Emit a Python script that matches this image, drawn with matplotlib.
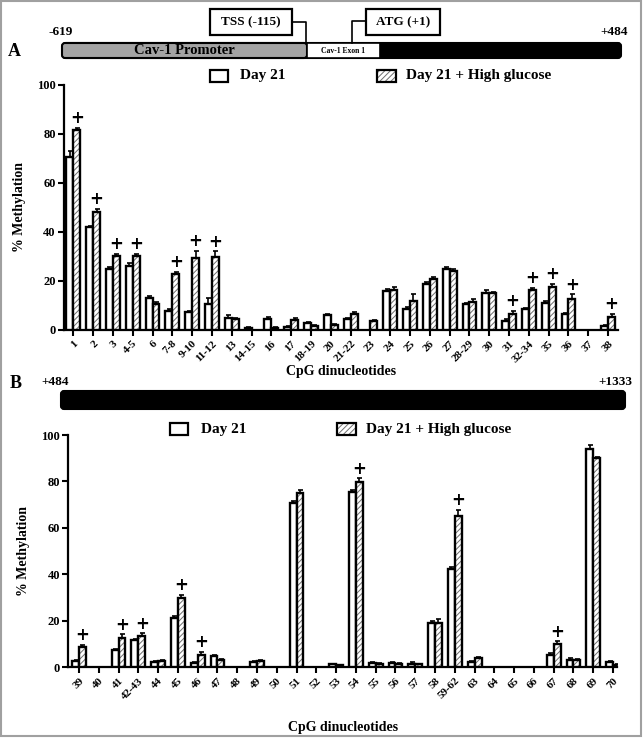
import numpy as np
import matplotlib
matplotlib.use('Agg')
import matplotlib.pyplot as plt
from matplotlib.patches import Rectangle, FancyBboxPatch

plt.rcParams['font.family'] = ['Liberation Serif', 'DejaVu Serif']
plt.rcParams['font.weight'] = 'bold'
plt.rcParams['hatch.linewidth'] = 0.7

# ---------------- data ----------------
cats_a = ['1', '2', '3', '4-5', '6', '7-8', '9-10', '11-12', '13', '14-15', '16', '17',
          '18-19', '20', '21-22', '23', '24', '25', '26', '27', '28-29', '30', '31',
          '32-34', '35', '36', '37', '38']
day21_a = [70.5, 42, 25, 26.2, 13, 7.7, 7.2, 10.5, 4.8, 1.0, 4.6, 1.2, 2.7, 6.1, 4.3, 0,
           16, 8.4, 18.8, 25, 10.6, 15.2, 3.8, 8.6, 11.2, 6.5, 0, 1.6]
hg_a = [81.5, 48, 30, 30, 10.5, 22.8, 29.3, 29.6, 4.3, 0, 1.0, 4.0, 1.5, 2.0, 6.4, 3.6,
        16.2, 11.8, 20.8, 24, 11.5, 15, 6.4, 16.3, 17.4, 12.5, 0, 5.2]
err_day21_a = [2.5, 0.6, 0.8, 1.0, 0.8, 0.8, 0.6, 2.5, 1.5, 0.3, 0.8, 0.4, 0.6, 0.5, 0.6, 0,
               0.8, 0.8, 0.8, 0.8, 0.6, 1.0, 0.5, 0.5, 0.6, 0.5, 0, 0.4]
err_hg_a = [1.0, 1.5, 1.0, 1.0, 1.0, 1.0, 3.0, 2.5, 0.5, 0, 0.3, 0.8, 0.4, 0.4, 1.0, 0.3,
            1.5, 3.0, 1.0, 1.0, 1.0, 0.6, 1.5, 1.0, 1.5, 2.0, 0, 1.5]
sig_a = ['1', '2', '3', '4-5', '7-8', '9-10', '11-12', '31', '32-34', '35', '36', '38']

cats_b = ['39', '40', '41', '42-43', '44', '45', '46', '47', '48', '49', '50', '51', '52',
          '53', '54', '55', '56', '57', '58', '59-62', '63', '64', '65', '66', '67', '68',
          '69', '70']
day21_b = [2.5, 0, 7.3, 11.6, 2.0, 21.3, 1.6, 4.8, 0, 2.0, 0, 70.7, 0, 1.2, 75.5, 1.6, 1.7,
           1.5, 19, 42.2, 2.2, 0, 0, 0, 5.2, 3.2, 94, 2.0]
hg_b = [8.6, 0, 12.6, 13.5, 2.8, 29.6, 5.2, 3.2, 0, 2.8, 0, 75.2, 0, 0.7, 79.8, 1.3, 1.5,
        1.2, 19, 65.3, 4.0, 0, 0, 0, 9.8, 3.0, 90, 1.0]
err_day21_b = [0.4, 0, 0.6, 0.5, 0.4, 0.8, 0.6, 0.5, 0, 0.4, 0, 1.0, 0, 0.3, 1.0, 0.5, 0.5,
               0.5, 1.0, 1.0, 0.4, 0, 0, 0, 0.8, 0.5, 1.5, 0.5]
err_hg_b = [0.8, 0, 1.5, 1.0, 0.4, 1.5, 1.2, 0.4, 0, 0.4, 0, 1.0, 0, 0.2, 1.5, 0.3, 0.3,
            0.3, 1.5, 2.5, 0.4, 0, 0, 0, 1.2, 0.4, 0.4, 0.3]
sig_b = ['39', '41', '42-43', '45', '46', '54', '59-62', '67']

yticks = [0, 20, 40, 60, 80, 100]

W, H = 644, 739
fig = plt.figure(figsize=(W / 100, H / 100), dpi=100)


def px_axes(left, right, top, bottom):
    return fig.add_axes([left / W, 1 - bottom / H, (right - left) / W, (bottom - top) / H])


def draw_panel(ax, cats, v1, v2, e1, e2, sig, xlim, xlab_y):
    x = np.arange(len(cats))
    w = 0.35
    v1 = np.array(v1, float)
    v2 = np.array(v2, float)
    e1 = np.array(e1, float)
    e2 = np.array(e2, float)
    m1 = v1 > 0
    m2 = v2 > 0
    ax.bar(x[m1] - w / 2, v1[m1], w, facecolor='white', edgecolor='black', linewidth=1.7,
           zorder=3)
    ax.bar(x[m2] + w / 2, v2[m2], w, facecolor='white', edgecolor='#6f6f6f', linewidth=0,
           hatch='//////', zorder=3)
    ax.bar(x[m2] + w / 2, v2[m2], w, facecolor='none', edgecolor='black', linewidth=1.7,
           zorder=4)
    ax.errorbar(x[m1] - w / 2, v1[m1], yerr=[np.zeros(m1.sum()), e1[m1]], fmt='none',
                ecolor='black', elinewidth=1.2, capsize=1.8, capthick=1.2, zorder=5)
    ax.errorbar(x[m2] + w / 2, v2[m2], yerr=[np.zeros(m2.sum()), e2[m2]], fmt='none',
                ecolor='black', elinewidth=1.2, capsize=1.8, capthick=1.2, zorder=5)
    for c in sig:
        i = cats.index(c)
        ax.text(x[i] + w / 2, v2[i] + e2[i] + 0.3, '+', ha='center', va='bottom',
                fontsize=12, fontweight='bold', family='DejaVu Sans')
    ax.set_xlim(*xlim)
    ax.set_ylim(0, 100)
    ax.set_yticks(yticks)
    ax.set_xticks(x)
    ax.set_xticklabels(cats, rotation=45, ha='right', rotation_mode='anchor', fontsize=8)
    ax.tick_params(axis='both', direction='out', length=4, width=1.5)
    ax.tick_params(axis='y', labelsize=9, pad=2)
    ax.tick_params(axis='x', pad=2.5)
    for s in ['top', 'right']:
        ax.spines[s].set_visible(False)
    for s in ['left', 'bottom']:
        ax.spines[s].set_linewidth(1.6)
    ax.set_ylabel('% Methylation', fontsize=10, fontweight='bold', labelpad=8)
    ax.set_xlabel('CpG dinucleotides', fontsize=10, fontweight='bold')
    ax.xaxis.set_label_coords(0.5, xlab_y)
    ax.patch.set_alpha(0)


axA = px_axes(64, 618, 84.7, 330)
draw_panel(axA, cats_a, day21_a, hg_a, err_day21_a, err_hg_a, sig_a, (-0.47, 27.5), -0.143)
axB = px_axes(68.3, 617, 435, 667)
draw_panel(axB, cats_b, day21_b, hg_b, err_day21_b, err_hg_b, sig_b, (-0.54, 27.2), -0.232)

# ---------------- overlay (gene map, legends, frame) ----------------
ov = fig.add_axes([0, 0, 1, 1], zorder=-1)
ov.set_xlim(0, W)
ov.set_ylim(H, 0)
ov.axis('off')

ov.add_patch(Rectangle((1, 1), 640, 735, facecolor='none', edgecolor='#a0a0a0', lw=1.5))

# Panel A gene map
ov.add_patch(FancyBboxPatch((63, 43), 558, 15, boxstyle='round,pad=0,rounding_size=3',
                            facecolor='black', edgecolor='black', lw=1.5))
ov.add_patch(FancyBboxPatch((62, 43), 245, 15, boxstyle='round,pad=0,rounding_size=3',
                            facecolor='#a3a3a3', edgecolor='black', lw=1.5))
ov.add_patch(Rectangle((307, 43), 73, 15, facecolor='white', edgecolor='black', lw=1.2))
ov.text(184, 51, 'Cav-1 Promoter', ha='center', va='center', fontsize=10.5)
ov.text(343, 51, 'Cav-1 Exon 1', ha='center', va='center', fontsize=5.5)
ov.add_patch(Rectangle((210, 9), 82, 26, facecolor='white', edgecolor='black', lw=1.6))
ov.text(251, 22, 'TSS (-115)', ha='center', va='center', fontsize=9.5)
ov.plot([292, 306, 306], [22, 22, 43], color='black', lw=1.2)
ov.add_patch(Rectangle((366, 9), 74, 26, facecolor='white', edgecolor='black', lw=1.6))
ov.text(403, 22, 'ATG (+1)', ha='center', va='center', fontsize=9.5)
ov.plot([366, 352, 352], [21, 21, 43], color='black', lw=1.2)
ov.text(61, 32, '-619', ha='center', va='center', fontsize=9.5)
ov.text(628, 32, '+484', ha='right', va='center', fontsize=9.5)
ov.text(14, 52, 'A', ha='center', va='center', fontsize=13)

# Panel B gene map
ov.add_patch(FancyBboxPatch((61, 391), 564, 18, boxstyle='round,pad=0,rounding_size=3',
                            facecolor='black', edgecolor='black', lw=1.5))
ov.text(16, 383, 'B', ha='center', va='center', fontsize=13)
ov.text(55, 382, '+484', ha='center', va='center', fontsize=9.5)
ov.text(632, 382, '+1333', ha='right', va='center', fontsize=9.5)


def legend(y, x1, t1, x2, t2):
    ov.add_patch(Rectangle((x1, y - 6), 18, 12, facecolor='white', edgecolor='black', lw=1.6))
    ov.text(t1, y, 'Day 21', ha='left', va='center', fontsize=11)
    ov.add_patch(Rectangle((x2, y - 6), 19, 12, facecolor='white', edgecolor='#6f6f6f', lw=0,
                           hatch='//////'))
    ov.add_patch(Rectangle((x2, y - 6), 19, 12, facecolor='none', edgecolor='black', lw=1.6))
    ov.text(t2, y, 'Day 21 + High glucose', ha='left', va='center', fontsize=11)


legend(75.5, 210, 240, 377, 406)
legend(429, 170, 201, 337, 366)

fig.savefig('out.png', dpi=100)
